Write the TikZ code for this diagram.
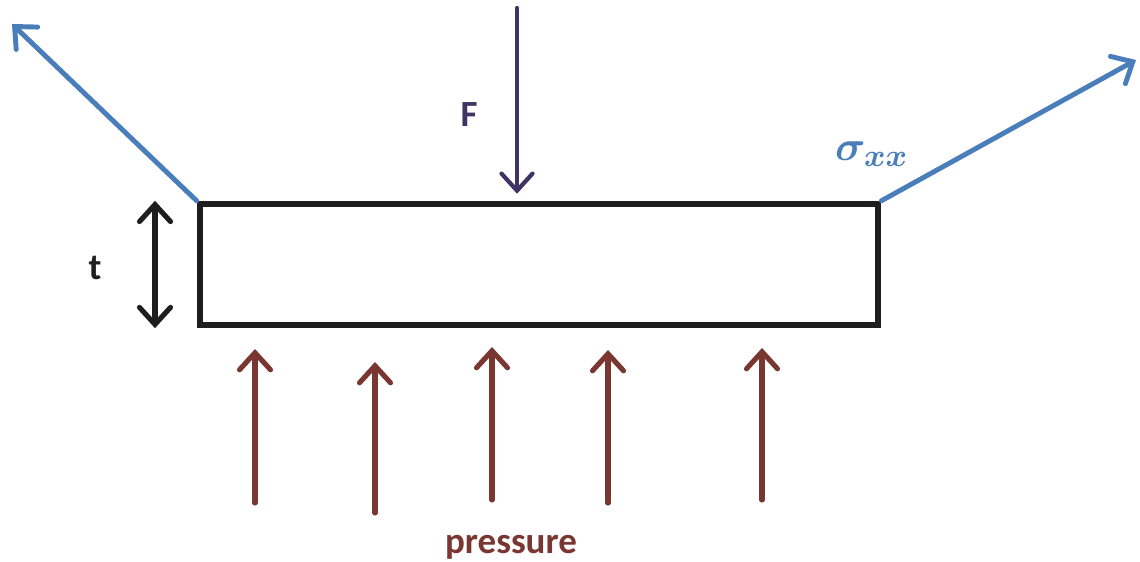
\documentclass[tikz,border=0pt]{standalone}
\usepackage{fontspec}
\setmainfont{Carlito}
\usetikzlibrary{arrows.meta,positioning,calc}

\definecolor{stressblue}{HTML}{4A7EBB}
\definecolor{forcepurple}{HTML}{3F3366}
\definecolor{pressbrown}{HTML}{7A3631}
\definecolor{dimblack}{HTML}{1E1E1E}

\begin{document}
\begin{tikzpicture}[
  x=0.01cm, y=-0.01cm,
  every node/.style={font=\fontsize{10.5}{12}\selectfont\bfseries},
  plate/.style={draw=dimblack, line width=1.8pt, minimum width=6.78cm,
                minimum height=1.21cm, inner sep=0pt},
  barb/.tip={Straight Barb[length=1.7mm, width=3.1mm, line cap=round]},
  stress/.style={-barb, line width=1.4pt, stressblue, line cap=round},
  load/.style={-barb, line width=1.2pt, forcepurple, line cap=round},
  press/.style={-barb, line width=1.45pt, pressbrown, line cap=round},
  dim/.style={barb-barb, line width=1.45pt, dimblack, line cap=round},
]
  \useasboundingbox (0,0) rectangle (1140,562);

  % Plate
  \node[plate] (plate) at (539, 264.5) {};

  % In-plane stress
  \coordinate (sl) at (12, 24);
  \coordinate (sr) at (1136, 60);
  \draw[stress] (plate.north west) -- (sl);
  \draw[stress] (plate.north east) -- (sr);
  \node[text=stressblue, font=\fontsize{13}{15}\selectfont\boldmath]
    (sigma) at (872, 154) {$\sigma_{xx}$};

  % Point load
  \coordinate (ftop) at (517, 8);
  \draw[load, shorten >=2pt] (ftop) -- (ftop |- plate.north);
  \node[text=forcepurple] (flabel) at (469, 115) {F};

  % Thickness
  \coordinate (tdim) at (155, 0);
  \draw[dim] (tdim |- plate.north west) -- (tdim |- plate.south west);
  \node[text=dimblack] (tlabel) at (95, 268) {t};

  % Pressure from below
  \foreach \x/\ytop/\ybot [count=\i] in
    {255/349/503, 375/362/513, 492/347/500, 608/350/503, 762/348/500} {
    \coordinate (pb\i) at (\x, \ybot);
    \coordinate (pt\i) at (\x, \ytop);
    \draw[press] (pb\i) -- (pt\i);
  }
  \node[text=pressbrown] (plabel) at (511, 547) {pressure};
\end{tikzpicture}
\end{document}
